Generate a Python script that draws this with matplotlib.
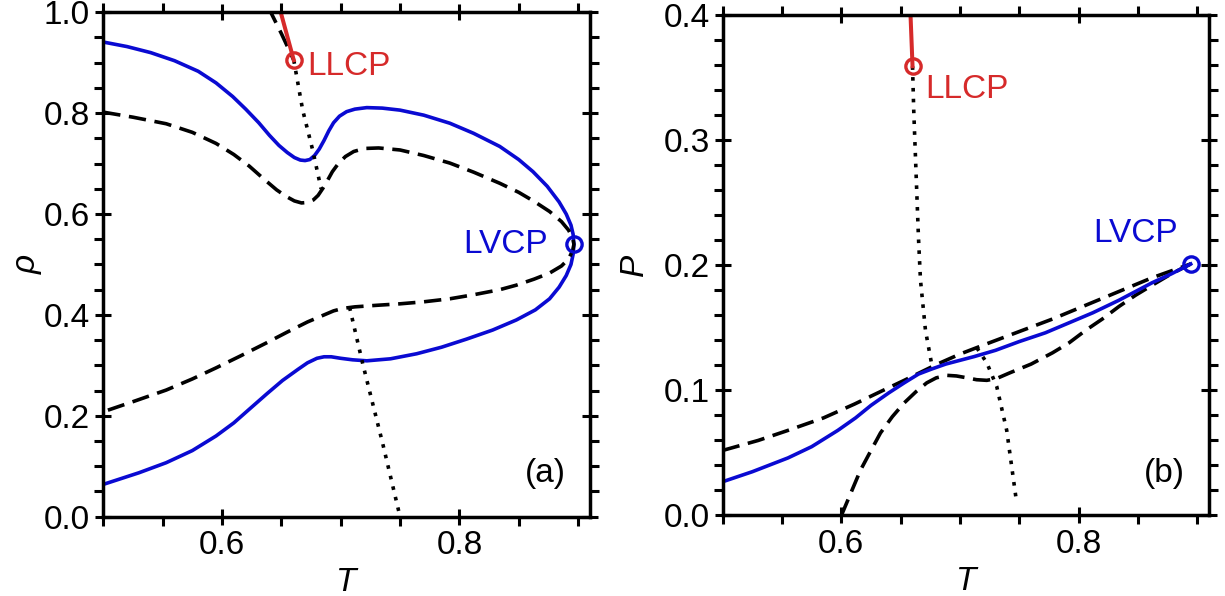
import numpy as np
import matplotlib
matplotlib.use("Agg")
import matplotlib.pyplot as plt
from matplotlib.ticker import MultipleLocator

plt.rcParams['font.family'] = ['Liberation Sans', 'DejaVu Sans']

BLUE = '#0a0ad2'
RED = '#d62a2a'

# ---- panel (a): density vs T ----
a_blue_T = [0.500, 0.520, 0.540, 0.560, 0.580, 0.595, 0.609, 0.620, 0.631, 0.640, 0.648,
            0.655, 0.661, 0.666, 0.670, 0.674, 0.678, 0.682, 0.686, 0.690, 0.694, 0.699,
            0.705, 0.712, 0.722, 0.735, 0.750, 0.770, 0.792, 0.812, 0.834, 0.850, 0.862,
            0.874, 0.884, 0.890, 0.894, 0.8958, 0.8965, 0.8958, 0.894, 0.890, 0.884,
            0.876, 0.864, 0.848, 0.828, 0.806, 0.785, 0.764, 0.742, 0.722, 0.710, 0.700,
            0.692, 0.686, 0.680, 0.672, 0.664, 0.651, 0.638, 0.623, 0.610, 0.595, 0.575,
            0.553, 0.530, 0.500]
a_blue_rho = [0.941, 0.932, 0.920, 0.904, 0.883, 0.860, 0.833, 0.808, 0.781, 0.756, 0.736,
              0.722, 0.712, 0.707, 0.706, 0.708, 0.716, 0.729, 0.746, 0.765, 0.781, 0.794,
              0.803, 0.808, 0.811, 0.810, 0.806, 0.796, 0.780, 0.760, 0.734, 0.708, 0.684,
              0.655, 0.624, 0.600, 0.578, 0.560, 0.540, 0.520, 0.500, 0.478, 0.455,
              0.432, 0.410, 0.390, 0.370, 0.352, 0.336, 0.323, 0.313, 0.309, 0.311, 0.314,
              0.317, 0.317, 0.314, 0.305, 0.292, 0.270, 0.244, 0.213, 0.186, 0.160, 0.131,
              0.107, 0.087, 0.064]

a_dash_T = [0.500, 0.525, 0.553, 0.575, 0.595, 0.610, 0.623, 0.635, 0.646, 0.654, 0.661,
            0.667, 0.672, 0.677, 0.681, 0.685, 0.689, 0.693, 0.698, 0.704, 0.711, 0.720,
            0.732, 0.750, 0.770, 0.792, 0.812, 0.834, 0.850, 0.863, 0.876, 0.886, 0.892,
            0.8955, 0.8965, 0.8955, 0.892, 0.886, 0.876, 0.863, 0.848, 0.834, 0.812,
            0.792, 0.770, 0.750, 0.730, 0.712, 0.702, 0.694, 0.684, 0.672, 0.655, 0.637,
            0.615, 0.595, 0.575, 0.553, 0.525, 0.500]
a_dash_rho = [0.802, 0.792, 0.779, 0.762, 0.740, 0.718, 0.695, 0.670, 0.648, 0.635, 0.626,
              0.622, 0.623, 0.628, 0.637, 0.651, 0.667, 0.684, 0.700, 0.714, 0.724, 0.730,
              0.731, 0.727, 0.716, 0.701, 0.683, 0.661, 0.643, 0.625, 0.605, 0.585, 0.568,
              0.552, 0.540, 0.528, 0.511, 0.497, 0.483, 0.471, 0.459, 0.450, 0.440,
              0.432, 0.426, 0.422, 0.419, 0.416, 0.413, 0.408, 0.398, 0.386, 0.366, 0.344,
              0.318, 0.295, 0.273, 0.251, 0.228, 0.208]

a_lldash_T = [0.639, 0.650, 0.6605]
a_lldash_rho = [1.01, 0.958, 0.905]

a_red_T = [0.6495, 0.6605]
a_red_rho = [1.00, 0.905]

a_dot1_T = [0.6605, 0.668, 0.6765, 0.6835]
a_dot1_rho = [0.905, 0.806, 0.726, 0.650]
a_dot2_T = [0.7075, 0.7186, 0.7355, 0.750]
a_dot2_rho = [0.415, 0.303, 0.144, 0.0]

a_llcp = (0.6605, 0.905)
a_lvcp = (0.8965, 0.540)

# ---- panel (b): pressure vs T ----
b_blue_T = [0.500, 0.525, 0.555, 0.575, 0.597, 0.612, 0.625, 0.640, 0.653, 0.665, 0.676,
            0.688, 0.700, 0.712, 0.730, 0.750, 0.772, 0.792, 0.812, 0.834, 0.850, 0.862,
            0.878, 0.8945]
b_blue_P = [0.027, 0.035, 0.046, 0.055, 0.068, 0.078, 0.088, 0.098, 0.106, 0.113, 0.117,
            0.121, 0.124, 0.127, 0.132, 0.139, 0.146, 0.154, 0.162, 0.172, 0.180, 0.186,
            0.193, 0.201]

b_dash1_T = [0.500, 0.530, 0.555, 0.585, 0.611, 0.633, 0.653, 0.668, 0.681, 0.700, 0.722,
             0.750, 0.778, 0.806, 0.834, 0.862, 0.8945]
b_dash1_P = [0.052, 0.060, 0.068, 0.078, 0.089, 0.099, 0.108, 0.115, 0.121, 0.129, 0.137,
             0.147, 0.157, 0.168, 0.179, 0.190, 0.201]

b_dash2_T = [0.600, 0.608, 0.616, 0.625, 0.633, 0.643, 0.653, 0.663, 0.672, 0.680, 0.689,
             0.697, 0.706, 0.714, 0.7226, 0.731, 0.742, 0.760, 0.778, 0.792, 0.806, 0.820,
             0.834, 0.848, 0.862, 0.878, 0.8945]
b_dash2_P = [0.000, 0.018, 0.036, 0.052, 0.066, 0.079, 0.090, 0.099, 0.106, 0.110, 0.112,
             0.1115, 0.110, 0.1085, 0.108, 0.1095, 0.114, 0.121, 0.130, 0.138, 0.148, 0.157,
             0.167, 0.176, 0.184, 0.193, 0.201]

b_red_T = [0.6583, 0.660]
b_red_P = [0.40, 0.359]

b_dot1_T = [0.660, 0.661, 0.665, 0.6667, 0.6709, 0.6765]
b_dot1_P = [0.359, 0.324, 0.222, 0.188, 0.148, 0.119]
b_dot2_T = [0.7142, 0.7226, 0.731, 0.7394, 0.7478]
b_dot2_P = [0.134, 0.122, 0.103, 0.068, 0.010]

b_llcp = (0.660, 0.359)
b_lvcp = (0.8945, 0.201)

LW = 2.6
DASH = (4.8, 2.4)
DOT = (1.0, 2.0)
FS = 24

fig = plt.figure(figsize=(12.25, 5.96), dpi=100)
ax1 = fig.add_axes([0.0843, 0.1331, 0.3973, 0.8463])
ax2 = fig.add_axes([0.5900, 0.1351, 0.3970, 0.8398])


def style(ax, ymaj, ymin):
    ax.set_xlim(0.5, 0.91)
    ax.xaxis.set_major_locator(MultipleLocator(0.2))
    ax.xaxis.set_minor_locator(MultipleLocator(0.05))
    ax.yaxis.set_major_locator(MultipleLocator(ymaj))
    ax.yaxis.set_minor_locator(MultipleLocator(ymin))
    ax.tick_params(which='major', direction='inout', length=11, width=2.2,
                   top=True, right=True, labelsize=FS, pad=4)
    ax.tick_params(which='minor', direction='out', length=6.5, width=2.2,
                   top=True, right=True)
    for s in ax.spines.values():
        s.set_linewidth(2.5)


# panel (a)
ax1.plot(a_blue_T, a_blue_rho, color=BLUE, lw=LW)
ax1.plot(a_dash_T, a_dash_rho, color='k', lw=LW, dashes=DASH)
ax1.plot(a_lldash_T, a_lldash_rho, color='k', lw=LW, dashes=DASH)
ax1.plot(a_dot1_T, a_dot1_rho, color='k', lw=LW, dashes=DOT)
ax1.plot(a_dot2_T, a_dot2_rho, color='k', lw=LW, dashes=DOT)
ax1.plot(a_red_T, a_red_rho, color=RED, lw=LW + 0.3)
ax1.plot(*a_llcp, 'o', ms=11, mfc='none', mec=RED, mew=2.4)
ax1.plot(*a_lvcp, 'o', ms=11, mfc='none', mec=BLUE, mew=2.4)
ax1.text(0.6718, 0.8925, 'LLCP', color=RED, fontsize=FS, ha='left', va='center')
ax1.text(0.8747, 0.5387, 'LVCP', color=BLUE, fontsize=FS, ha='right', va='center')
ax1.text(0.95, 0.085, '(a)', transform=ax1.transAxes, fontsize=FS, ha='right', va='center')
style(ax1, 0.2, 0.05)
ax1.set_ylim(0, 1.0)
ax1.set_xlabel('T', fontsize=FS, style='italic')
ax1.set_ylabel('ρ', fontsize=FS, style='italic')
ax1.xaxis.set_label_coords(0.5, -0.10)
ax1.yaxis.set_label_coords(-0.125, 0.5)

# panel (b)
ax2.plot(b_dash1_T, b_dash1_P, color='k', lw=LW, dashes=DASH)
ax2.plot(b_dash2_T, b_dash2_P, color='k', lw=LW, dashes=DASH)
ax2.plot(b_blue_T, b_blue_P, color=BLUE, lw=LW)
ax2.plot(b_dot1_T, b_dot1_P, color='k', lw=LW, dashes=DOT)
ax2.plot(b_dot2_T, b_dot2_P, color='k', lw=LW, dashes=DOT)
ax2.plot(b_red_T, b_red_P, color=RED, lw=LW + 0.3)
ax2.plot(*b_llcp, 'o', ms=11, mfc='none', mec=RED, mew=2.4)
ax2.plot(*b_lvcp, 'o', ms=11, mfc='none', mec=BLUE, mew=2.4)
ax2.text(0.6709, 0.3404, 'LLCP', color=RED, fontsize=FS, ha='left', va='center')
ax2.text(0.8478, 0.225, 'LVCP', color=BLUE, fontsize=FS, ha='center', va='center')
ax2.text(0.951, 0.084, '(b)', transform=ax2.transAxes, fontsize=FS, ha='right', va='center')
style(ax2, 0.1, 0.02)
ax2.set_ylim(0, 0.4)
ax2.set_xlabel('T', fontsize=FS, style='italic')
ax2.set_ylabel('P', fontsize=FS, style='italic')
ax2.xaxis.set_label_coords(0.5, -0.10)
ax2.yaxis.set_label_coords(-0.15, 0.5)

fig.savefig('out.png', dpi=100)
